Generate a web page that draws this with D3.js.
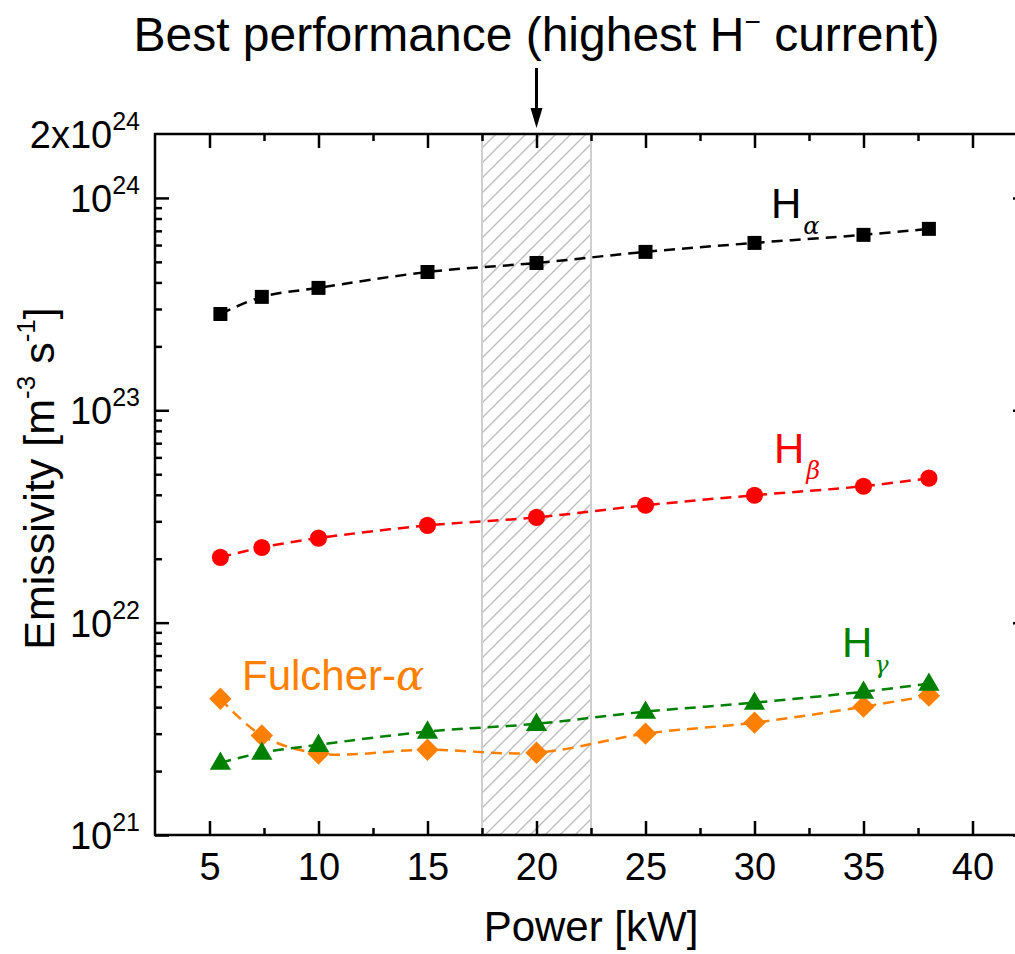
<!DOCTYPE html>
<html>
<head>
<meta charset="utf-8">
<script src="https://cdn.jsdelivr.net/npm/d3@7"></script>
<style>
  html, body { margin: 0; padding: 0; background: #fff; }
  svg { display: block; font-family: "Liberation Sans", Arial, sans-serif; }
</style>
</head>
<body>
<svg id="chart" width="1015" height="954"></svg>
<script>
// ---- data ----
const power = [5.5, 7.4, 10, 15, 20, 25, 30, 35, 38];
const hAlpha = [2.84e23, 3.42e23, 3.77e23, 4.48e23, 4.94e23, 5.57e23, 6.14e23, 6.70e23, 7.15e23];
const hBeta = [2.03e22, 2.26e22, 2.50e22, 2.87e22, 3.13e22, 3.57e22, 3.98e22, 4.39e22, 4.79e22];
const hGamma = [2.19e21, 2.44e21, 2.66e21, 3.07e21, 3.34e21, 3.81e21, 4.20e21, 4.73e21, 5.16e21];
const fulcher = [4.38e21, 2.94e21, 2.42e21, 2.52e21, 2.44e21, 3.00e21, 3.38e21, 4.02e21, 4.53e21];
const xTicks = [5, 10, 15, 20, 25, 30, 35, 40];
const xMinorTicks = [7.5, 12.5, 17.5, 22.5, 27.5, 32.5, 37.5];
const yTicks = [1e21, 1e22, 1e23, 1e24, 2e24];
const yTickLabels = [["10", "21"], ["10", "22"], ["10", "23"], ["10", "24"], ["2x10", "24"]];
const bandRange = [17.5, 22.5];
const xDomain = [2.5, 42.5];
const yDomain = [1e21, 2e24];

const svg = d3.select("#chart");
const L = 155, R = 1027, T = 134, B = 835;
const x = d3.scaleLinear().domain(xDomain).range([L, R]);
const y = d3.scaleLog().domain(yDomain).range([B, T]);

// hatched band
const defs = svg.append("defs");
const pat = defs.append("pattern").attr("id", "hatch").attr("patternUnits", "userSpaceOnUse")
  .attr("width", 15).attr("height", 15);
pat.append("path").attr("d", "M-2,17 L17,-2 M-4,4 L4,-4 M11,19 L19,11")
  .attr("stroke", "#bdbdbd").attr("stroke-width", 1.4);
svg.append("rect")
  .attr("x", x(bandRange[0])).attr("y", T)
  .attr("width", x(bandRange[1]) - x(bandRange[0])).attr("height", B - T)
  .attr("fill", "url(#hatch)").attr("stroke", "#cfcfcf").attr("stroke-width", 2);

// minor y ticks
const yMinor = [];
for (let e = 21; e <= 23; e++) for (let m = 2; m <= 9; m++) yMinor.push(m * Math.pow(10, e));

// axes
svg.append("g").attr("transform", `translate(0,${B})`).call(
  d3.axisBottom(x).tickValues(xMinorTicks).tickSize(-7).tickFormat(""));
const gB2 = svg.append("g").attr("transform", `translate(0,${B})`).call(
  d3.axisBottom(x).tickValues(xTicks).tickSize(-14).tickPadding(0).tickFormat(d3.format("d")));
gB2.selectAll("text").attr("y", 18).attr("font-size", 38).attr("fill", "#000")
  .attr("font-family", "Liberation Sans, Arial, sans-serif");
svg.append("g").attr("transform", `translate(0,${T})`).call(
  d3.axisTop(x).tickValues(xMinorTicks).tickSize(-7).tickFormat(""));
svg.append("g").attr("transform", `translate(0,${T})`).call(
  d3.axisTop(x).tickValues(xTicks).tickSize(-14).tickFormat(""));

svg.append("g").attr("transform", `translate(${L},0)`).call(
  d3.axisLeft(y).tickValues(yMinor).tickSize(-7).tickFormat(""));
svg.append("g").attr("transform", `translate(${L},0)`).call(
  d3.axisLeft(y).tickValues(yTicks.slice(0, 4)).tickSize(-14).tickFormat(""));
svg.append("g").attr("transform", `translate(${R},0)`).call(
  d3.axisRight(y).tickValues(yMinor).tickSize(-7).tickFormat(""));
svg.append("g").attr("transform", `translate(${R},0)`).call(
  d3.axisRight(y).tickValues(yTicks.slice(0, 4)).tickSize(-14).tickFormat(""));

svg.selectAll(".tick line").attr("stroke", "#000").attr("stroke-width", 2.5);
svg.selectAll(".domain").remove();
svg.append("rect").attr("x", L).attr("y", T).attr("width", R - L).attr("height", B - T)
  .attr("fill", "none").attr("stroke", "#000").attr("stroke-width", 2.5);

// y tick labels
yTicks.forEach((v, i) => {
  const t = svg.append("text").attr("x", 140).attr("y", y(v) + 14)
    .attr("text-anchor", "end").attr("font-size", 38).attr("fill", "#000");
  t.append("tspan").text(yTickLabels[i][0]);
  t.append("tspan").attr("font-size", 25).attr("dy", -18).text(yTickLabels[i][1]);
});

// axis titles
svg.append("text").attr("x", (L + R) / 2).attr("y", 941).attr("text-anchor", "middle")
  .attr("font-size", 42).attr("fill", "#000").text("Power [kW]");
const yl = svg.append("text").attr("transform", `translate(54,${(T + B) / 2 - 6}) rotate(-90)`)
  .attr("text-anchor", "middle").attr("font-size", 43).attr("fill", "#000");
yl.append("tspan").text("Emissivity [m");
yl.append("tspan").attr("font-size", 26).attr("dy", -19).text("-3");
yl.append("tspan").attr("dy", 19).text(" s");
yl.append("tspan").attr("font-size", 26).attr("dy", -19).text("-1");
yl.append("tspan").attr("dy", 19).text("]");

// title + arrow
const tt = svg.append("text").attr("x", x(20)).attr("y", 51).attr("text-anchor", "middle")
  .attr("font-size", 48).attr("fill", "#000");
tt.append("tspan").text("Best performance (highest H");
tt.append("tspan").attr("font-size", 28).attr("dy", -20).text("\u2212");
tt.append("tspan").attr("dy", 20).text(" current)");
svg.append("line").attr("x1", x(20)).attr("x2", x(20)).attr("y1", 68).attr("y2", 112)
  .attr("stroke", "#000").attr("stroke-width", 3);
svg.append("path").attr("d", `M${x(20) - 6},108 L${x(20) + 6},108 L${x(20)},128 Z`).attr("fill", "#000");

// series
const series = [
  { vals: fulcher, color: "#ff8000", shape: "diamond" },
  { vals: hGamma, color: "#008000", shape: "triangle" },
  { vals: hBeta, color: "#ff0000", shape: "circle" },
  { vals: hAlpha, color: "#000000", shape: "square" }
];
const line = d3.line().x(d => x(d[0])).y(d => y(d[1])).curve(d3.curveCatmullRom.alpha(0.5));
const symbols = {
  diamond: d3.symbol().type(d3.symbolSquare).size(250),
  triangle: d3.symbol().type(d3.symbolTriangle).size(195),
  circle: d3.symbol().type(d3.symbolCircle).size(230),
  square: d3.symbol().type(d3.symbolSquare).size(196)
};
series.forEach(s => {
  const pts = power.map((p, i) => [p, s.vals[i]]);
  svg.append("path").attr("d", line(pts)).attr("fill", "none").attr("stroke", s.color)
    .attr("stroke-width", 2.5).attr("stroke-dasharray", "11,7");
});
series.forEach(s => {
  const pts = power.map((p, i) => [p, s.vals[i]]);
  svg.append("g").selectAll("path").data(pts).join("path")
    .attr("transform", d => `translate(${x(d[0])},${y(d[1])})` + (s.shape === "diamond" ? " rotate(45)" : "") +
      (s.shape === "triangle" ? " translate(0,1)" : ""))
    .attr("d", symbols[s.shape]()).attr("fill", s.color);
});

// series labels
const greekFont = "DejaVu Serif, Liberation Serif, serif";
function label(xp, yp, main, sub, color) {
  const t = svg.append("text").attr("x", xp).attr("y", yp).attr("font-size", 42).attr("fill", color);
  t.append("tspan").text(main);
  t.append("tspan").attr("font-size", 24).attr("font-style", "italic").attr("font-family", greekFont)
    .attr("dy", 16).attr("dx", 2).text(sub);
}
label(771, 218, "H", "\u03b1", "#000");
label(774, 463, "H", "\u03b2", "#ff0000");
label(842, 657, "H", "\u03b3", "#008000");
const ft = svg.append("text").attr("x", 242).attr("y", 690).attr("font-size", 42).attr("fill", "#ff8000");
ft.append("tspan").text("Fulcher-");
ft.append("tspan").attr("font-family", greekFont).attr("font-style", "italic").text("\u03b1");
</script>
</body>
</html>
